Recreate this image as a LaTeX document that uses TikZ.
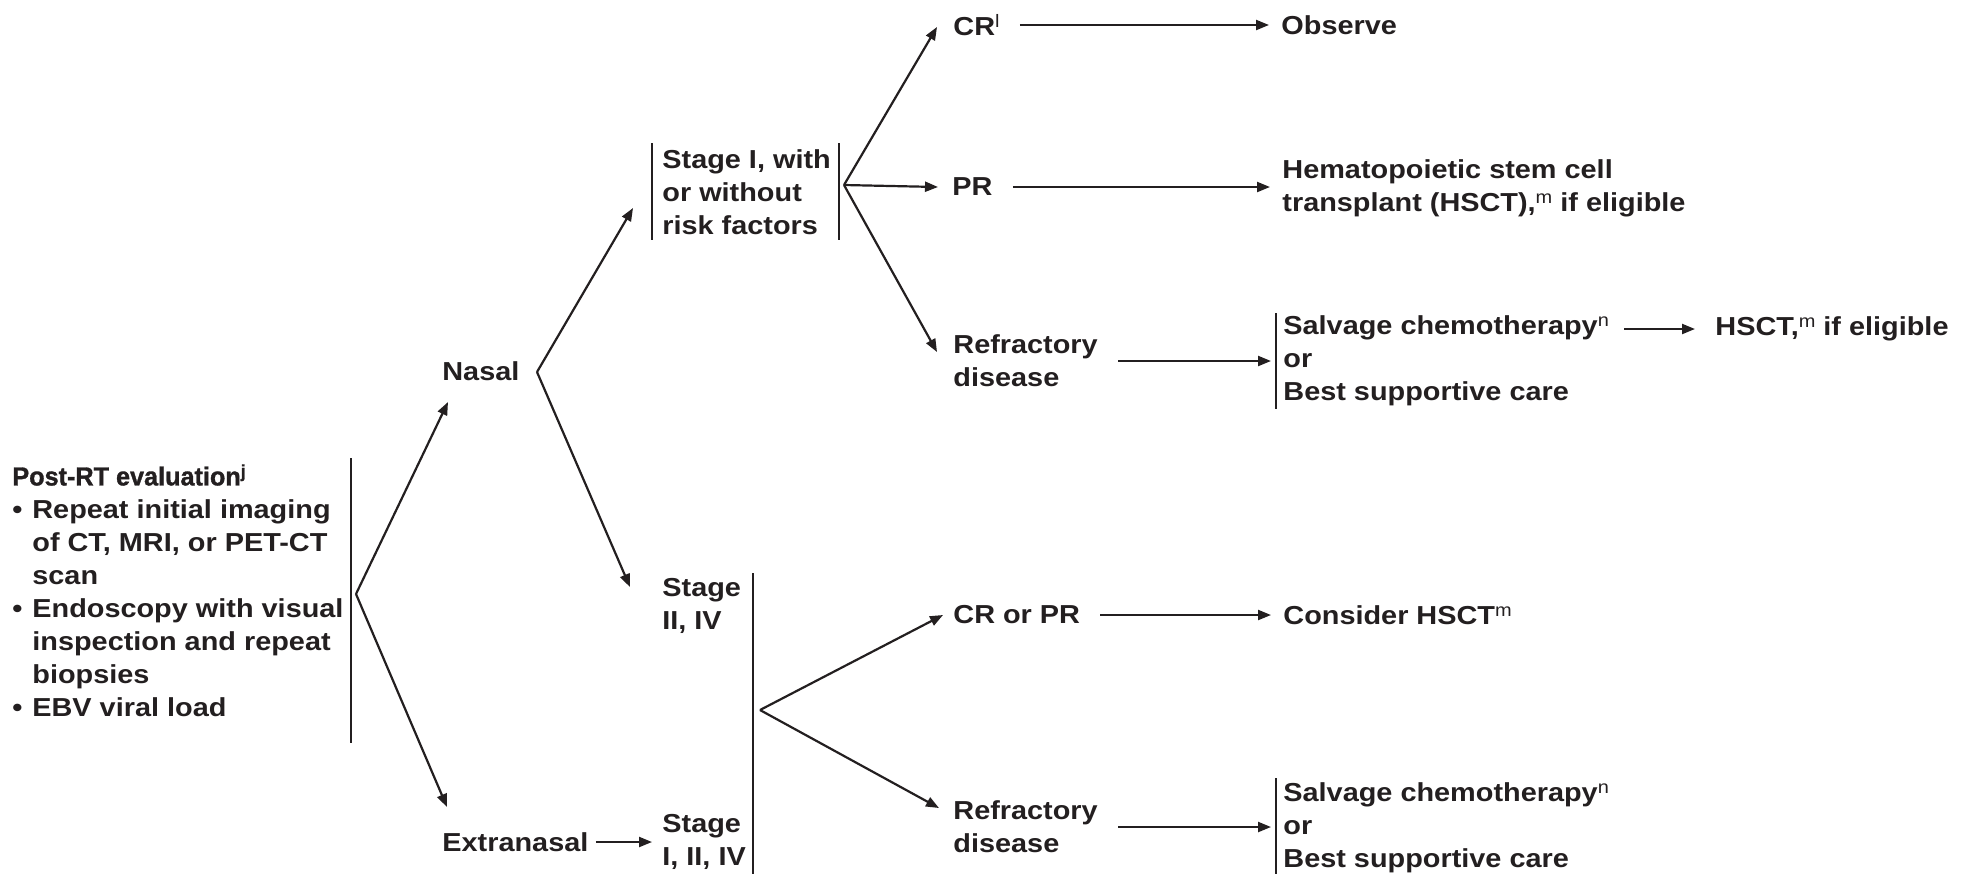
\documentclass[tikz,border=0pt]{standalone}
\usepackage{fontspec}
\setmainfont{Liberation Sans}[FakeStretch=1.11]
\newfontfamily\headfont{Liberation Sans Bold}[FakeStretch=0.97, FakeBold=1.2]
\usepackage{tikz}
\usetikzlibrary{arrows.meta,calc}
\usepackage{xcolor}
\definecolor{ink}{HTML}{231F20}
\newcommand{\sups}[1]{\raisebox{4pt}{\fontsize{9}{9}\selectfont\mdseries #1}}
\newcommand{\bul}{\makebox[10pt][l]{\textbullet}}
\newcommand{\ind}{\hspace*{10pt}}

\begin{document}
\begin{tikzpicture}[x=0.5pt, y=-0.5pt,
    txt/.style={anchor=west, inner sep=0pt, align=left, text=ink,
                font=\fontsize{13}{16.5}\selectfont\bfseries},
    arr/.style={draw=ink, line width=1.1pt, -{Triangle[length=6.5pt,width=5pt]}},
    hor/.style={arr, shorten <=10pt, shorten >=6pt},
    bar/.style={draw=ink, line width=1.1pt}]
    \useasboundingbox (0,0) rectangle (1974,874);

    % Text blocks
    \node[txt, font=\fontsize{13}{16.5}\headfont] (head) at (12,475) {Post-RT evaluation\sups{j}};
    \node[txt] (eval) at (12,608) {\bul Repeat initial imaging\\\ind of CT, MRI, or PET-CT\\\ind scan\\\bul Endoscopy with visual\\\ind inspection and repeat\\\ind biopsies\\\bul EBV viral load};
    \node[txt] (nasal) at (442,371) {Nasal};
    \node[txt] (extra) at (442,842) {Extranasal};
    \node[txt] (st1) at (662,192) {Stage I, with\\or without\\risk factors};
    \node[txt] (st2) at (662,606) {Stage\\II, IV};
    \node[txt] (st3) at (662,842) {Stage\\I, II, IV};
    \node[txt] (cr) at (953,25) {CR\sups{l}};
    \node[txt] (obs) at (1281,25) {Observe};
    \node[txt] (pr) at (952,187) {PR};
    \node[txt] (hsct1) at (1282,188) {Hematopoietic stem cell\\transplant (HSCT),\sups{m} if eligible};
    \node[txt] (ref1) at (953,361) {Refractory\\disease};
    \node[txt] (salv1) at (1283,361) {Salvage chemotherapy\sups{n}\\or\\Best supportive care};
    \node[txt] (hsct2) at (1715,329) {HSCT,\sups{m} if eligible};
    \node[txt] (crpr) at (953,615) {CR or PR};
    \node[txt] (cons) at (1283,615) {Consider HSCT\sups{m}};
    \node[txt] (ref2) at (953,827) {Refractory\\disease};
    \node[txt] (salv2) at (1283,828) {Salvage chemotherapy\sups{n}\\or\\Best supportive care};

    % Branch points
    \coordinate (b0) at (356,594);
    \coordinate (b1) at (537,372);
    \coordinate (b2) at (844,185);
    \coordinate (b3) at (760,710);

    % Brackets
    \draw[bar] (351,458) -- (351,743);
    \draw[bar] (652,143) -- (652,240);
    \draw[bar] (839,143) -- (839,240);
    \draw[bar] (753,573) -- (753,874);
    \draw[bar] (1276,313) -- (1276,409);
    \draw[bar] (1276,778) -- (1276,874);

    % Arrows
    \draw[arr] (b0) -- ($(nasal.west)+(6,31)$);
    \draw[arr] (b0) -- ($(extra.west)+(5,-35)$);
    \draw[arr] (b1) -- ($(st1.west)+(-29,16)$);
    \draw[arr] (b1) -- ($(st2.west)+(-32,-19)$);
    \draw[arr, shorten <=3.5pt, shorten >=5pt] (extra.east) -- (st3.west |- extra.east);
    \draw[arr] (b2) -- ($(cr.west)+(-16,2)$);
    \draw[arr] (b2) -- ($(pr.west)+(-14,0)$);
    \draw[arr] (b2) -- ($(ref1.west)+(-16,-9)$);
    \draw[arr] (b3) -- ($(crpr.west)+(-10,0)$);
    \draw[arr] (b3) -- ($(ref2.west)+(-14,-19)$);
    \draw[hor] (cr.east) -- (cr.east -| obs.west);
    \draw[hor] (pr.east) -- (pr.east -| hsct1.west);
    \draw[hor] (ref1.east) -- (ref1.east -| salv1.west);
    \draw[arr, shorten <=7.5pt, shorten >=10pt] (salv1.east |- hsct2.west) -- (hsct2.west);
    \draw[hor] (crpr.east) -- (crpr.east -| cons.west);
    \draw[hor] (ref2.east) -- (ref2.east -| salv2.west);
\end{tikzpicture}
\end{document}
